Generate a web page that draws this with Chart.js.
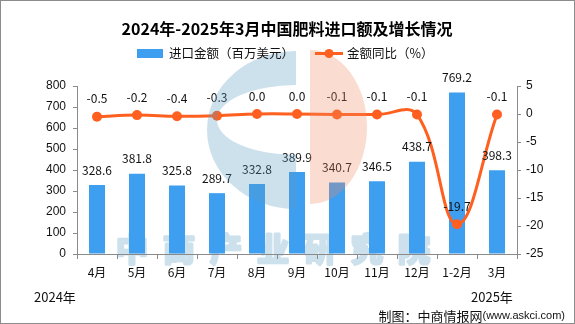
<!DOCTYPE html>
<html>
<head>
<meta charset="utf-8">
<script src="https://cdn.jsdelivr.net/npm/chart.js@4/dist/chart.umd.min.js"></script>
<style>
  html, body { margin: 0; padding: 0; background: #fff; }
  #wrap { width: 575px; height: 324px; }
</style>
</head>
<body>
<div id="wrap"><canvas id="c" width="575" height="324"></canvas></div>
<script>
// Months and values
const months = ['4月', '5月', '6月', '7月', '8月', '9月', '10月', '11月', '12月', '1-2月', '3月'];
const importValue = [328.6, 381.8, 325.8, 289.7, 332.8, 389.9, 340.7, 346.5, 438.7, 769.2, 398.3];
const yoyChange = [-0.5, -0.2, -0.4, -0.3, 0.0, 0.0, -0.1, -0.1, -0.1, -19.7, -0.1];
const seriesNames = ['进口金额（百万美元）', '金额同比（%）'];
const yearLabels = ['2024年', '2025年'];
const titleText = '2024年-2025年3月中国肥料进口额及增长情况';
const sourceMain = '制图：中商情报网';
const sourceSite = '(www.askci.com)';
const watermarkText = '中商产业研究院';

const BAR = '#3e9ef0';
const LINE = '#ff5f1f';
const AXIS = '#8a8a8a';
const CJK = "'Noto Sans CJK SC', 'Liberation Sans', sans-serif";
const LAT = "'Liberation Sans', Arial, sans-serif";

Chart.defaults.font.family = CJK;
Chart.defaults.color = '#111';

// Pale heavy lettering that sits behind the plot
const backdrop = {
  id: 'backdrop',
  beforeDraw(chart) {
    const ctx = chart.ctx;
    ctx.save();
    ctx.fillStyle = '#cde1ed';
    ctx.strokeStyle = '#cde1ed';
    ctx.lineWidth = 3;
    ctx.lineJoin = 'round';
    ctx.font = `bold 32px ${CJK}`;
    ctx.textAlign = 'center';
    ctx.textBaseline = 'middle';
    [...watermarkText].forEach((ch, i) => {
      const x = 132 + i * 47;
      ctx.strokeText(ch, x, 249);
      ctx.fillText(ch, x, 249);
    });
    ctx.restore();
  }
};

// Value labels above bars and line points
const valueLabels = {
  id: 'valueLabels',
  afterDatasetsDraw(chart) {
    const ctx = chart.ctx;
    ctx.save();
    ctx.font = `12px ${CJK}`;
    ctx.fillStyle = '#111';
    ctx.textAlign = 'center';
    ctx.textBaseline = 'middle';
    chart.getDatasetMeta(0).data.forEach((el, i) => {
      ctx.fillText(importValue[i].toFixed(1), el.x, el.y - 15);
    });
    chart.getDatasetMeta(1).data.forEach((el, i) => {
      ctx.fillText(yoyChange[i].toFixed(1), el.x, el.y - 18);
    });
    ctx.restore();
  }
};

// Logo overlay, title, legend, footer texts and frame
const decorations = {
  id: 'decorations',
  afterDraw(chart) {
    const ctx = chart.ctx;
    ctx.save();

    // translucent logo
    ctx.globalAlpha = 0.3;
    ctx.fillStyle = 'rgb(88,155,195)';
    ctx.beginPath();
    ctx.ellipse(296, 130, 89, 79, 0, Math.PI / 2, Math.PI * 1.5, false);
    ctx.closePath();
    ctx.ellipse(296, 120, 79, 35, 0, Math.PI * 1.5, Math.PI / 2, true);
    ctx.closePath();
    ctx.fill('evenodd');
    ctx.fillStyle = 'rgb(240,140,100)';
    ctx.beginPath();
    ctx.ellipse(310, 127, 57, 77, 0, -Math.PI / 2, Math.PI / 2, false);
    ctx.closePath();
    ctx.fill();
    ctx.globalAlpha = 1;

    // title
    ctx.fillStyle = '#000';
    ctx.textBaseline = 'middle';
    ctx.textAlign = 'center';
    ctx.font = `bold 16px ${CJK}`;
    ctx.fillText(titleText, 287, 29);

    // legend
    ctx.font = `12.5px ${CJK}`;
    ctx.textAlign = 'left';
    ctx.fillStyle = BAR;
    ctx.fillRect(137, 49, 26, 9);
    ctx.fillStyle = '#111';
    ctx.fillText(seriesNames[0], 169, 53.5);
    ctx.strokeStyle = LINE;
    ctx.lineWidth = 3;
    ctx.beginPath();
    ctx.moveTo(315, 53.5);
    ctx.lineTo(343, 53.5);
    ctx.stroke();
    ctx.fillStyle = LINE;
    ctx.beginPath();
    ctx.arc(329, 53.5, 4.5, 0, Math.PI * 2);
    ctx.fill();
    ctx.fillStyle = '#111';
    ctx.fillText(seriesNames[1], 347, 53.5);

    // year marks under the axis
    ctx.font = `13px ${CJK}`;
    ctx.fillText(yearLabels[0], 34, 297);
    ctx.fillText(yearLabels[1], 471, 297);

    // source line
    ctx.textAlign = 'right';
    ctx.font = `11px ${LAT}`;
    ctx.fillText(sourceSite, 565, 316);
    const siteW = ctx.measureText(sourceSite).width;
    ctx.font = `13px ${CJK}`;
    ctx.fillText(sourceMain, 565 - siteW, 316);

    // frame
    ctx.strokeStyle = '#8c8c8c';
    ctx.lineWidth = 1;
    ctx.strokeRect(0.5, 0.5, 574, 323);
    ctx.restore();
  }
};

new Chart(document.getElementById('c'), {
  type: 'bar',
  data: {
    labels: months,
    datasets: [
      {
        label: seriesNames[0],
        data: importValue,
        backgroundColor: BAR,
        barPercentage: 0.4,
        categoryPercentage: 1,
        yAxisID: 'y',
        order: 1
      },
      {
        type: 'line',
        label: seriesNames[1],
        data: yoyChange,
        borderColor: LINE,
        backgroundColor: LINE,
        borderWidth: 3,
        pointRadius: 5,
        pointBorderWidth: 0,
        pointBackgroundColor: LINE,
        tension: 0.4,
        yAxisID: 'y1',
        order: 0
      }
    ]
  },
  options: {
    responsive: false,
    animation: false,
    devicePixelRatio: 1,
    layout: { padding: { top: 86, left: 0, right: 0, bottom: 0 } },
    plugins: {
      legend: { display: false },
      title: { display: false },
      tooltip: { enabled: false }
    },
    scales: {
      x: {
        offset: true,
        grid: { display: true, offset: true, drawOnChartArea: false, tickLength: 5, color: AXIS },
        border: { display: true, color: AXIS },
        ticks: { font: { size: 12, family: CJK }, color: '#111', padding: 6, maxRotation: 0 },
        afterFit(s) { s.height = 70; }
      },
      y: {
        position: 'left',
        min: 0,
        max: 800,
        ticks: { stepSize: 100, font: { size: 12, family: LAT }, color: '#111', padding: 7 },
        grid: { drawOnChartArea: false, tickLength: 4, color: AXIS },
        border: { display: true, color: AXIS },
        afterFit(s) { s.width = 77; }
      },
      y1: {
        position: 'right',
        min: -25,
        max: 5,
        ticks: { stepSize: 5, font: { size: 12, family: LAT }, color: '#111', padding: 5 },
        grid: { drawOnChartArea: false, tickLength: 4, color: AXIS },
        border: { display: true, color: AXIS },
        afterFit(s) { s.width = 58; }
      }
    }
  },
  plugins: [backdrop, valueLabels, decorations]
});
</script>
</body>
</html>
